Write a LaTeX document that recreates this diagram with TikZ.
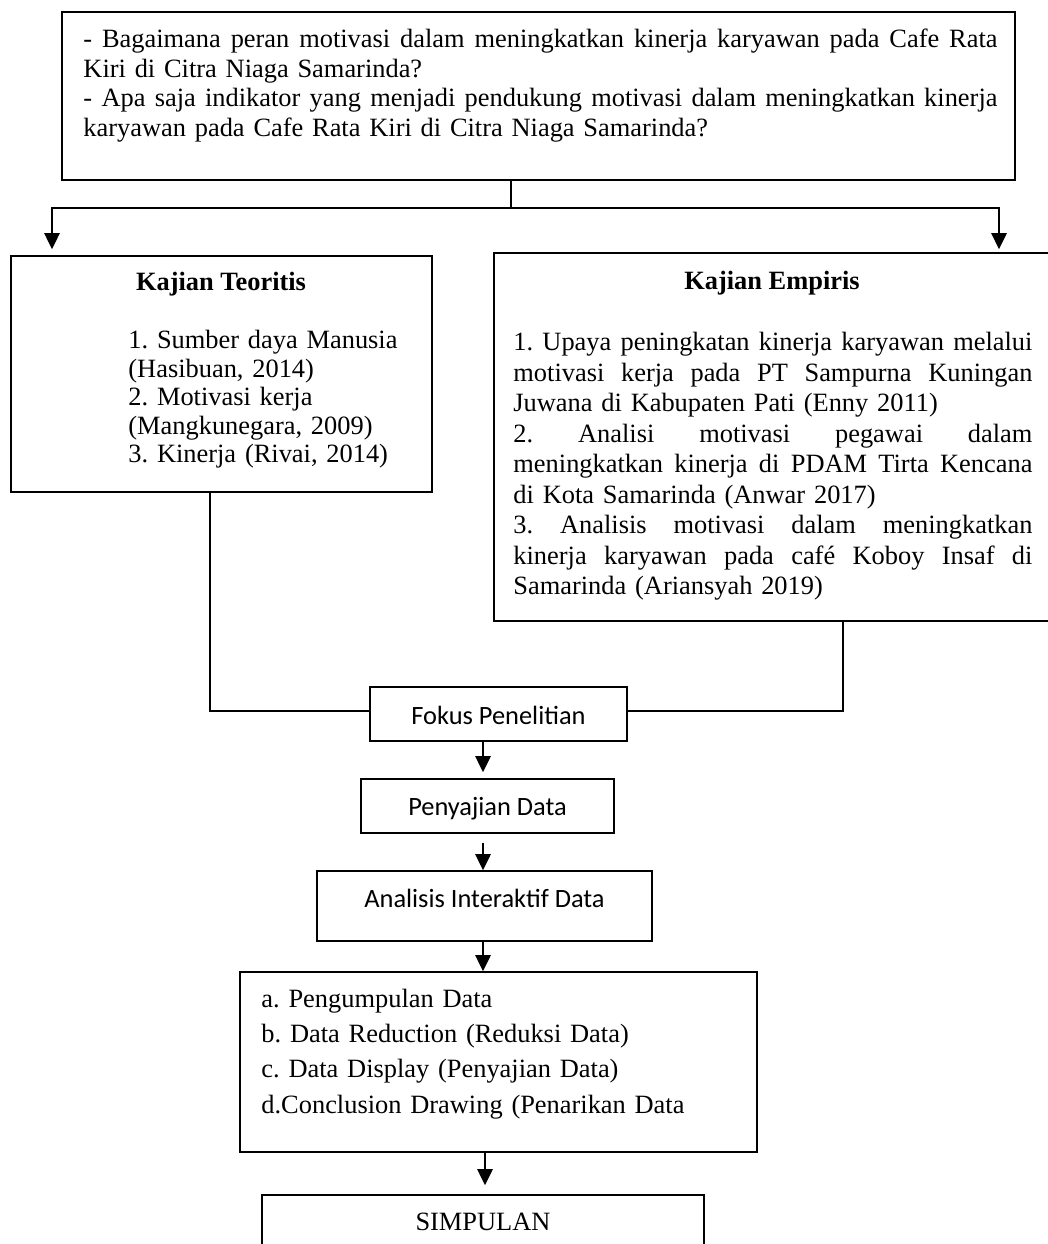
\documentclass[tikz,border=0pt]{standalone}
\usepackage{fontspec}
\setmainfont{Liberation Serif}
\newfontfamily\calib{Carlito}
\usetikzlibrary{arrows.meta,fit}
\def\pxu{0.4545pt}
\newcommand\jline[1]{\leavevmode\hbox to \hsize{\spaceskip=0.25em plus 1fil\relax #1}}
\frenchspacing
\begin{document}
\frenchspacing
\begin{tikzpicture}[x=0.4545pt,y=-0.4545pt,
  box/.style={draw, line width=0.75pt, inner sep=0pt, fit={#1}},
  conn/.style={line width=0.75pt},
  arr/.style={line width=0.75pt, -{Triangle[length=7.3pt,width=7pt]}},
  txt/.style={inner sep=0pt, anchor=base west, align=left},
  ctxt/.style={inner sep=0pt, anchor=base},
  serif12/.style={font=\frenchspacing\fontsize{12}{#1}\selectfont},
  sans12/.style={font=\calib\fontsize{12}{14}\selectfont},
]
\useasboundingbox (0,0) rectangle (1048,1244);
\clip (0,0) rectangle (1048,1244);

% boxes
\node[box={(62,12) (1015,180)}] (top) {};
\node[box={(11,256) (432,492)}] (teo) {};
\node[box={(494,253) (1070,621)}] (emp) {};
\node[box={(370,687) (627,741)}] (fokus) {};
\node[box={(361,779) (614,833)}] (peny) {};
\node[box={(317,871) (652,941)}] (anal) {};
\node[box={(240,972) (757,1152)}] (list) {};
\node[box={(262,1195) (704,1290)}] (simp) {};

% texts
\node[txt, serif12=13.4, text width=914*\pxu] (toptext) at (83,48) {%
\jline{- Bagaimana peran motivasi dalam meningkatkan kinerja karyawan pada Cafe Rata}\\
Kiri di Citra Niaga Samarinda?\\
\jline{- Apa saja indikator yang menjadi pendukung motivasi dalam meningkatkan kinerja}\\
karyawan pada Cafe Rata Kiri di Citra Niaga Samarinda?};

\node[ctxt, serif12=14] (teotitle) at (221,291) {\textbf{Kajian Teoritis}};
\node[txt, serif12=12.95, text width=300*\pxu] (teotext) at (128,349) {%
1. Sumber daya Manusia\\
(Hasibuan, 2014)\\
2. Motivasi kerja\\
(Mangkunegara, 2009)\\
3. Kinerja (Rivai, 2014)};

\node[ctxt, serif12=14] (emptitle) at (772,290) {\textbf{Kajian Empiris}};
\node[txt, serif12=13.86, text width=519*\pxu] (emptext) at (513,351) {%
\jline{1. Upaya peningkatan kinerja karyawan melalui}\\
\jline{motivasi kerja pada PT Sampurna Kuningan}\\
Juwana di Kabupaten Pati (Enny 2011)\\
\jline{2. Analisi motivasi pegawai dalam}\\
\jline{meningkatkan kinerja di PDAM Tirta Kencana}\\
di Kota Samarinda (Anwar 2017)\\
\jline{3. Analisis motivasi dalam meningkatkan}\\
\jline{kinerja karyawan pada café Koboy Insaf di}\\
Samarinda (Ariansyah 2019)};

\node[ctxt, sans12] (fokustext) at (498.5,724) {Fokus Penelitian};
\node[ctxt, sans12] (penytext) at (487.5,815) {Penyajian Data};
\node[ctxt, sans12] (analtext) at (484.5,907) {Analisis Interaktif Data};

\node[txt, serif12=16.1, text width=490*\pxu] (listtext) at (261,1007) {%
a. Pengumpulan Data\\
b. Data Reduction (Reduksi Data)\\
c. Data Display (Penyajian Data)\\
d.Conclusion Drawing (Penarikan Data};

\node[ctxt, serif12=14] (simptext) at (483,1230) {SIMPULAN};

% connector helpers
\coordinate (split) at (511,208);
\coordinate (lturn) at (52,208);
\coordinate (rturn) at (999,208);
\coordinate (lx) at (210,711);
\coordinate (rx) at (843,711);
\coordinate (ax) at (483,0);
\coordinate (ax2) at (485,0);

% connectors
\draw[conn] (top.south -| split) -- (split);
\draw[arr, shorten >=6*\pxu] (split) -- (lturn) -- (lturn |- teo.north);
\draw[arr, shorten >=3*\pxu] (split) -- (rturn) -- (rturn |- emp.north);
\draw[conn] (lx |- teo.south) -- (lx) -- (fokus.west |- lx);
\draw[conn] (rx |- emp.south) -- (rx) -- (fokus.east |- rx);
\draw[arr, shorten >=6*\pxu] (fokus.south -| ax) -- (peny.north -| ax);
\draw[arr, shorten <=9*\pxu] (peny.south -| ax) -- (anal.north -| ax);
\draw[arr] (anal.south -| ax) -- (list.north -| ax);
\draw[arr, shorten >=9*\pxu] (list.south -| ax2) -- (simp.north -| ax2);
\end{tikzpicture}
\end{document}
